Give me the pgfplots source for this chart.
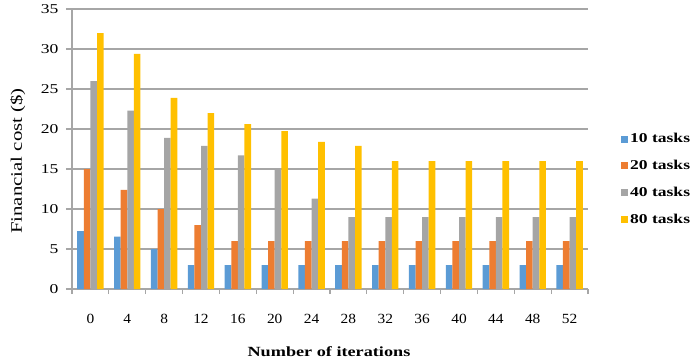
\documentclass[border=0pt]{standalone}
\usepackage{fontspec}
\setmainfont{Liberation Serif}
\newfontfamily\widefont[FakeStretch=1.3]{Liberation Serif}
\newfontfamily\midfont[FakeStretch=1.1]{Liberation Serif}
\usepackage{pgfplots}
\pgfplotsset{compat=1.18}

\definecolor{c10}{HTML}{5B9BD5}
\definecolor{c20}{HTML}{ED7D31}
\definecolor{c40}{HTML}{A5A5A5}
\definecolor{c80}{HTML}{FFC000}
\definecolor{gridgray}{HTML}{A6A6A6}

\pgfplotsset{
  sq legend/.style={legend image code/.code={\fill[##1] (0pt,-3.5pt) rectangle (7pt,3.5pt);}},
}

\begin{document}
\begin{tikzpicture}
\useasboundingbox (-72pt,-75pt) rectangle (619pt,289pt);
\begin{axis}[
  at={(0,0)}, anchor=south west,
  scale only axis, width=516pt, height=280pt,
  ymin=0, ymax=35, ytick={0,5,...,35},
  xmin=-0.5, xmax=13.5,
  ybar=0pt, bar width=6.6pt,
  axis x line=bottom, axis y line=left,
  x axis line style={-}, y axis line style={-},
  axis line style={gridgray, line width=1.2pt},
  xtick={0,...,13},
  xticklabels={0,4,8,12,16,20,24,28,32,36,40,44,48,52},
  minor xtick={-0.5,0.5,...,13.5},
  major x tick style={draw=none},
  tick style={gridgray, line width=1.2pt},
  tick align=outside,
  major tick length=6pt, minor tick length=5pt,
  ymajorgrids, major grid style={gridgray, line width=1.2pt},
  /pgf/number format/assume math mode=true,
  xticklabel style={font=\midfont\fontsize{14}{16}\selectfont, yshift=-16pt},
  yticklabel style={font=\widefont\fontsize{13.5}{16}\selectfont, xshift=-4pt},
  xlabel={\textbf{Number of iterations}},
  xlabel style={font=\widefont\fontsize{14}{16}\selectfont, at={(axis description cs:0.498,-0.225)}, anchor=center},
  ylabel={Financial cost (\$)},
  ylabel style={font=\widefont\fontsize{16}{18}\selectfont, at={(axis description cs:-0.105,0.457)}, anchor=center, rotate=0},
  legend style={at={(1.058,0.57)}, anchor=north west, draw=none, fill=none,
    font=\widefont\bfseries\fontsize{13.5}{16}\selectfont, row sep=12pt},
  legend cell align=left,
]
\addplot[fill=c10, draw=none, sq legend] coordinates {
  (0,7.25) (1,6.55) (2,5) (3,3) (4,3) (5,3) (6,3) (7,3) (8,3) (9,3) (10,3) (11,3) (12,3) (13,3)};
\addplot[fill=c20, draw=none, sq legend] coordinates {
  (0,15) (1,12.4) (2,10) (3,8) (4,6) (5,6) (6,6) (7,6) (8,6) (9,6) (10,6) (11,6) (12,6) (13,6)};
\addplot[fill=c40, draw=none, sq legend] coordinates {
  (0,26) (1,22.3) (2,18.9) (3,17.9) (4,16.7) (5,15) (6,11.3) (7,9) (8,9) (9,9) (10,9) (11,9) (12,9) (13,9)};
\addplot[fill=c80, draw=none, sq legend] coordinates {
  (0,32) (1,29.4) (2,23.9) (3,22) (4,20.6) (5,19.75) (6,18.4) (7,17.9) (8,16) (9,16) (10,16) (11,16) (12,16) (13,16)};
\legend{10 tasks, 20 tasks, 40 tasks, 80 tasks}
\end{axis}
\end{tikzpicture}
\end{document}
